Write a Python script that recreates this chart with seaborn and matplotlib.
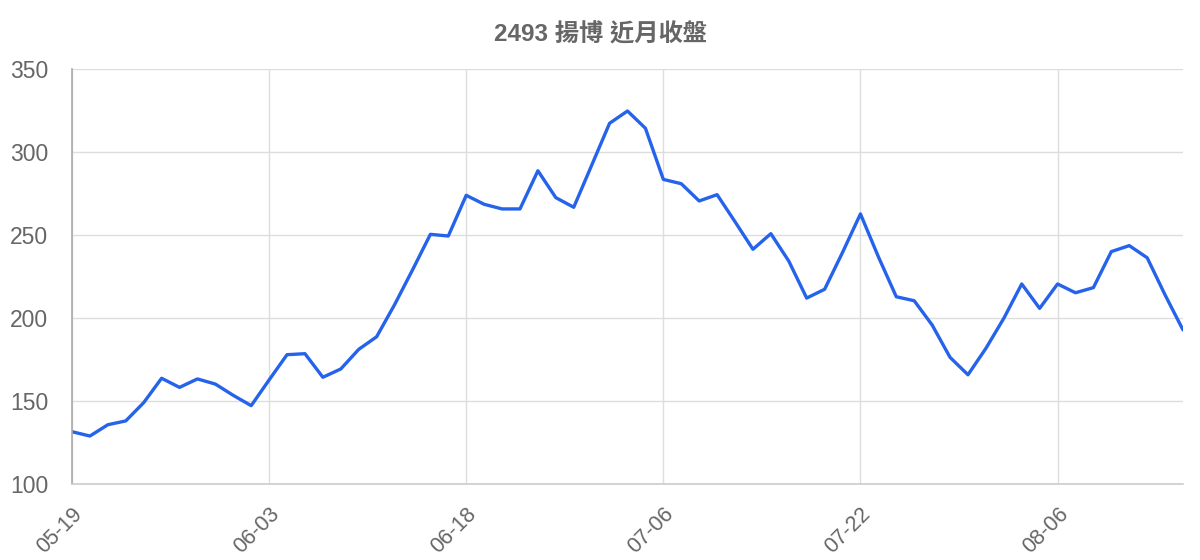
import matplotlib
matplotlib.use("Agg")
import matplotlib.pyplot as plt
import seaborn as sns
import pandas as pd

title = "2493 揚博 近月收盤"
tick_labels = ["05-19", "06-03", "06-18", "07-06", "07-22", "08-06"]
tick_step = 11
closes = [
    131.5, 128.9, 135.7, 138.0, 149.0, 163.7, 158.2, 163.3, 160.2, 153.4,
    147.2, 162.7, 177.9, 178.5, 164.3, 169.3, 181.1, 188.7, 208.0, 228.9,
    250.4, 249.4, 273.9, 268.5, 265.7, 265.7, 288.7, 272.5, 266.7, 292.0,
    317.3, 324.7, 314.3, 283.5, 280.9, 270.5, 274.3, 258.0, 241.4, 250.8,
    234.3, 212.0, 217.3, 239.5, 262.7, 236.9, 212.8, 210.4, 195.8, 176.3,
    165.8, 181.7, 199.8, 220.5, 205.8, 220.5, 215.2, 218.3, 240.0, 243.6,
    236.3, 213.9, 192.8,
]
y_ticks = [100, 150, 200, 250, 300, 350]

df = pd.DataFrame({"idx": range(len(closes)), "close": closes})

sns.set_theme(style="white")
plt.rcParams["font.family"] = ["Liberation Sans", "Noto Sans CJK TC", "DejaVu Sans"]

fig = plt.figure(figsize=(12, 5.6), dpi=100)
ax = fig.add_axes([72 / 1200, 76 / 560, 1111 / 1200, 415 / 560])

sns.lineplot(data=df, x="idx", y="close", ax=ax, color="#2563eb", linewidth=2.4)

ax.set_xlim(0, len(closes) - 1)
ax.set_ylim(100, 350)
ax.set_yticks(y_ticks)
ax.set_yticklabels([str(v) for v in y_ticks])
ax.set_xticks(list(range(0, len(closes), tick_step))[: len(tick_labels)])
ax.set_xticklabels(tick_labels, rotation=45, ha="right", va="top",
                   rotation_mode="anchor")

ax.grid(True, color="#dddddd", linewidth=1)
ax.set_axisbelow(True)
for s in ["top", "right"]:
    ax.spines[s].set_visible(False)
ax.spines["left"].set_color("#aaaaaa")
ax.spines["bottom"].set_color("#cccccc")
ax.spines["left"].set_linewidth(1.2)
ax.spines["bottom"].set_linewidth(1.2)
ax.tick_params(axis="both", which="major", length=14, width=1, color="#dddddd",
               labelcolor="#666666", labelsize=16.5, direction="out")
ax.tick_params(axis="y", pad=3)
ax.tick_params(axis="x", pad=0, labelsize=15.5)
ax.set_xlabel("")
ax.set_ylabel("")

fig.text(600 / 1200, 1 - 35 / 560, title, ha="center", va="center",
         fontsize=17.5, fontweight="bold", color="#666666")

fig.savefig("out.png", dpi=100)
